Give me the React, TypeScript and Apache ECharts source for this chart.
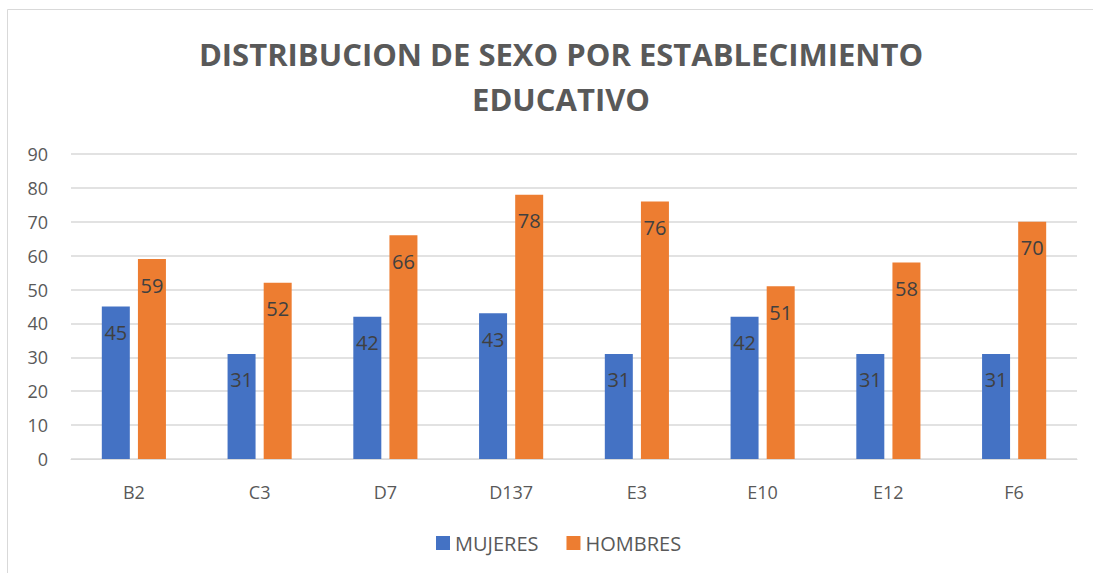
import React, { useEffect, useRef } from "react";
import * as echarts from "echarts";

const categories = ["B2", "C3", "D7", "D137", "E3", "E10", "E12", "F6"];
const mujeres = [45, 31, 42, 43, 31, 42, 31, 31];
const hombres = [59, 52, 66, 78, 76, 51, 58, 70];
const titleLines = ["DISTRIBUCION DE SEXO POR ESTABLECIMIENTO", "EDUCATIVO"];

const FONT = "'Open Sans', 'Noto Sans', sans-serif";
const GREY = "#595959";

export default function App() {
  const ref = useRef<HTMLDivElement>(null);
  useEffect(() => {
    if (!ref.current) return;
    const chart = echarts.init(ref.current, undefined, { renderer: "svg" });
    const label = {
      show: true,
      position: "insideTop",
      distance: 16,
      color: "#404040",
      fontSize: 20,
      fontFamily: FONT,
    };
    chart.setOption({
      animation: false,
      backgroundColor: "#ffffff",
      title: {
        text: titleLines.join("\n"),
        left: 556,
        textAlign: "center",
        top: 26,
        textStyle: {
          fontFamily: FONT,
          fontSize: 31,
          fontWeight: "bold",
          color: GREY,
          lineHeight: 45,
        },
      },
      graphic: [
        {
          type: "line",
          shape: { x1: 7.5, y1: 9.5, x2: 1093, y2: 9.5 },
          style: { stroke: "#d9d9d9", lineWidth: 1 },
        },
        {
          type: "line",
          shape: { x1: 7.5, y1: 9.5, x2: 7.5, y2: 573 },
          style: { stroke: "#d9d9d9", lineWidth: 1 },
        },
      ],
      legend: {
        data: ["MUJERES", "HOMBRES"],
        left: 431,
        top: 528,
        itemWidth: 14,
        itemHeight: 14,
        itemGap: 28,
        icon: "rect",
        textStyle: { fontFamily: FONT, fontSize: 20, color: GREY },
      },
      grid: { left: 71, right: 16, top: 154, bottom: 114 },
      xAxis: {
        type: "category",
        data: categories,
        axisLine: { lineStyle: { color: "#d9d9d9" } },
        axisTick: { show: false },
        axisLabel: { fontFamily: FONT, fontSize: 18, color: GREY, margin: 24 },
      },
      yAxis: {
        type: "value",
        min: 0,
        max: 90,
        interval: 10,
        axisLine: { show: false },
        axisTick: { show: false },
        splitLine: { lineStyle: { color: "#d9d9d9", width: 1.5 } },
        axisLabel: { fontFamily: FONT, fontSize: 18, color: GREY, margin: 23 },
      },
      series: [
        {
          name: "MUJERES",
          type: "bar",
          data: mujeres,
          barWidth: 28,
          barGap: "29%",
          itemStyle: { color: "#4472c4" },
          label,
        },
        {
          name: "HOMBRES",
          type: "bar",
          data: hombres,
          barWidth: 28,
          barGap: "29%",
          itemStyle: { color: "#ed7d31" },
          label,
        },
      ],
    });
    return () => chart.dispose();
  }, []);
  return (
    <div
      ref={ref}
      style={{ position: "absolute", left: 0, top: 0, width: 1093, height: 573 }}
    />
  );
}
